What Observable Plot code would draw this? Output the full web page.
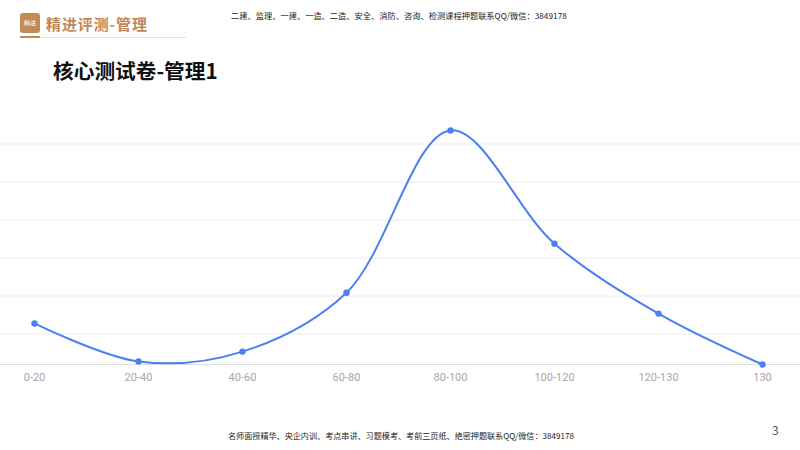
<!DOCTYPE html>
<html>
<head>
<meta charset="utf-8">
<script src="https://cdn.jsdelivr.net/npm/d3@7"></script>
<script src="https://cdn.jsdelivr.net/npm/@observablehq/plot@0.6"></script>
<style>
  html, body { margin: 0; padding: 0; background: #fff; }
  body { width: 800px; height: 450px; position: relative; overflow: hidden; font-family: "Noto Sans CJK SC", "Noto Sans", sans-serif; }
  .abs { position: absolute; white-space: nowrap; }
  #logo { left: 20px; top: 13px; width: 20px; height: 20px; background: #c28b55; border-radius: 3px; color: #fff; font-size: 6px; line-height: 20px; text-align: center; }
  #brand { left: 46px; top: 13px; font-size: 15px; font-weight: bold; color: #c2885a; line-height: 22px; letter-spacing: 0.9px; }
  #ul1 { left: 20px; top: 36px; width: 20px; height: 2px; background: #c28b55; }
  #ul2 { left: 40px; top: 37px; width: 146px; height: 1px; background: #e2e2e2; }
  #topnote { left: 231px; top: 9px; font-size: 8.2px; color: #222; line-height: 12px; letter-spacing: 0.05px; }
  #title { left: 53px; top: 56px; font-size: 20.7px; font-weight: bold; color: #111; line-height: 28px; }
  #chart { left: 0; top: 100px; }
  #foot { left: 228px; top: 430px; font-size: 8.1px; color: #222; line-height: 12px; }
  #page { left: 772px; top: 422px; font-size: 12px; color: #555; line-height: 16px; }
</style>
</head>
<body>
<div class="abs" id="logo">精进</div>
<div class="abs" id="brand">精进评测-管理</div>
<div class="abs" id="ul1"></div>
<div class="abs" id="ul2"></div>
<div class="abs" id="topnote">二建、监理、一建、一造、二造、安全、消防、咨询、检测课程押题联系QQ/微信：3849178</div>
<div class="abs" id="title">核心测试卷-管理1</div>
<div class="abs" id="chart"></div>
<div class="abs" id="foot">名师面授精华、央企内训、考点串讲、习题模考、考前三页纸、绝密押题联系QQ/微信：3849178</div>
<div class="abs" id="page">3</div>
<script>
const categories = ["0-20", "20-40", "40-60", "60-80", "80-100", "100-120", "120-130", "130"];
const values = [10.8, 0.8, 3.4, 18.9, 61.6, 31.8, 13.4, 0];
const gridValues = [8, 18, 28, 38, 48, 58];

const data = categories.map((c, i) => ({cat: c, v: values[i]}));

const chart = Plot.plot({
  width: 800,
  height: 300,
  marginLeft: 32,
  marginRight: 36,
  marginTop: 17,
  marginBottom: 36,
  style: {fontFamily: "Roboto, 'Noto Sans', sans-serif", fontSize: "11px", background: "transparent"},
  x: {type: "point", domain: categories, padding: 0, label: null},
  y: {domain: [0, 65], axis: null},
  marks: [
    Plot.ruleY(gridValues, {stroke: "#ececec", strokeWidth: 1, insetLeft: -32, insetRight: -36}),
    Plot.ruleY([0], {stroke: "#dedede", strokeWidth: 1, insetLeft: -32, insetRight: -36}),
    Plot.axisX({tickSize: 0, tickPadding: 9, color: "#a6a6a6", fontSize: 11, label: null}),
    Plot.line(data, {x: "cat", y: "v", stroke: "#4a80ef", strokeWidth: 2, curve: "catmull-rom"}),
    Plot.dot(data, {x: "cat", y: "v", fill: "#4a80ef", r: 3.2})
  ]
});
document.getElementById("chart").appendChild(chart);
</script>
</body>
</html>
